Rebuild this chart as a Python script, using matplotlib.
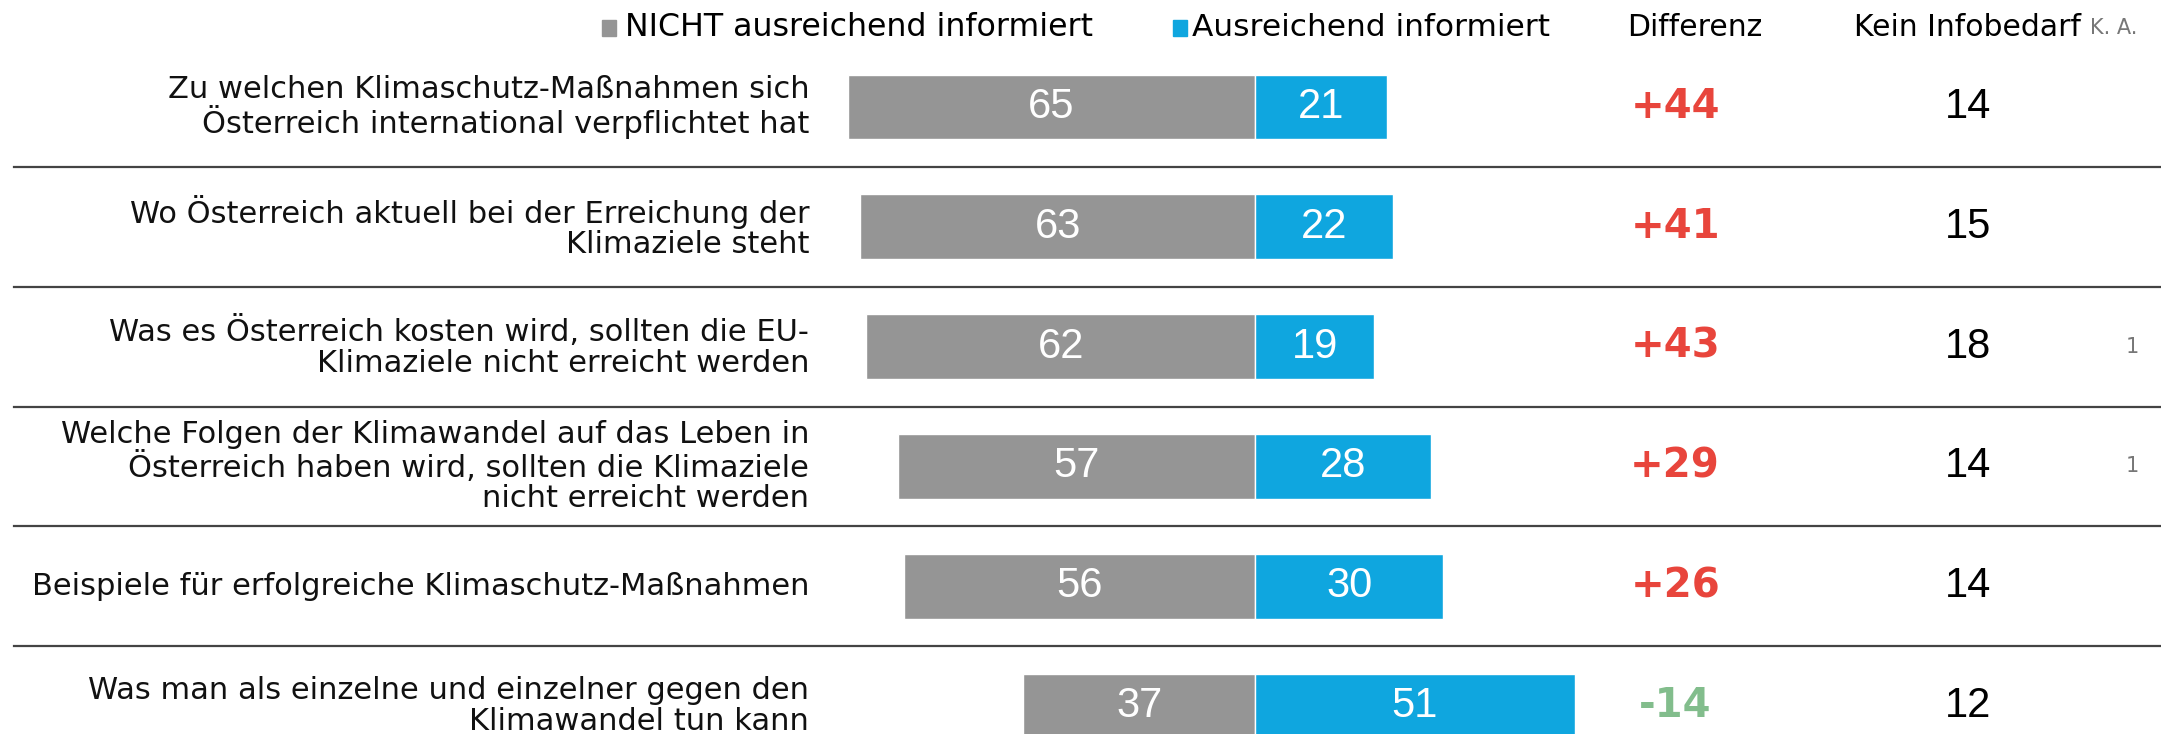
import matplotlib.pyplot as plt
import matplotlib.patches as mpatches

# Daten
labels = [
    "Zu welchen Klimaschutz-Maßnahmen sich\nÖsterreich international verpflichtet hat",
    "Wo Österreich aktuell bei der Erreichung der\nKlimaziele steht",
    "Was es Österreich kosten wird, sollten die EU-\nKlimaziele nicht erreicht werden",
    "Welche Folgen der Klimawandel auf das Leben in\nÖsterreich haben wird, sollten die Klimaziele\nnicht erreicht werden",
    "Beispiele für erfolgreiche Klimaschutz-Maßnahmen",
    "Was man als einzelne und einzelner gegen den\nKlimawandel tun kann",
]
nicht_info = [65, 63, 62, 57, 56, 37]
ausr_info = [21, 22, 19, 28, 30, 51]
differenz = ["+44", "+41", "+43", "+29", "+26", "-14"]
kein_bedarf = [14, 15, 18, 14, 14, 12]
ka = ["", "", "1", "1", "", ""]

GRAY = "#959595"
BLUE = "#0fa6df"
RED = "#e8453c"
GREEN = "#82bd8c"
NUM_FONT = "Liberation Sans"

fig = plt.figure(figsize=(21.61, 7.34), dpi=100)
ax = fig.add_axes([0, 0, 1, 1])
ax.set_xlim(-200.2, 144.5)
ax.set_ylim(5.233, -0.893)
ax.axis("off")

y = list(range(len(labels)))
ax.barh(y, [-v for v in nicht_info], height=0.54, color=GRAY, edgecolor="white", linewidth=1)
ax.barh(y, ausr_info, height=0.54, color=BLUE, edgecolor="white", linewidth=1)

for i in y:
    ax.text(-nicht_info[i] / 2, i, str(nicht_info[i]), ha="center", va="center",
            color="white", fontsize=30, family=NUM_FONT)
    ax.text(ausr_info[i] / 2, i, str(ausr_info[i]), ha="center", va="center",
            color="white", fontsize=30, family=NUM_FONT)
    ax.text(-71.1, i, labels[i], ha="right", va="center", fontsize=22,
            linespacing=1.06, color="#111111")
    col = GREEN if differenz[i].startswith("-") else RED
    ax.text(67.0, i, differenz[i], ha="center", va="center", color=col,
            fontsize=29, fontweight="bold")
    ax.text(113.7, i, str(kein_bedarf[i]), ha="center", va="center", color="black",
            fontsize=30, family=NUM_FONT)
    if ka[i]:
        ax.text(139.9, i, ka[i], ha="center", va="center", color="#777777", fontsize=15)

# Trennlinien
for i in range(len(labels) - 1):
    ax.plot([-198, 144.5], [i + 0.5, i + 0.5], color="#444444", linewidth=1.6)

# Kopfzeile
hy = -0.66
ax.add_patch(mpatches.Rectangle((-104.2, hy - 0.065), 2.2, 0.13, color=GRAY))
ax.text(-100.5, hy, "NICHT ausreichend informiert", ha="left", va="center", fontsize=22.8)
ax.add_patch(mpatches.Rectangle((-13.1, hy - 0.065), 2.2, 0.13, color=BLUE))
ax.text(-10.0, hy, "Ausreichend informiert", ha="left", va="center", fontsize=22.5)
ax.text(70.2, hy, "Differenz", ha="center", va="center", fontsize=21.5)
ax.text(113.7, hy, "Kein Infobedarf", ha="center", va="center", fontsize=21.5)
ax.text(133.1, hy, "K. A.", ha="left", va="center", fontsize=15, color="#777777")

fig.savefig("out.png", dpi=100)
